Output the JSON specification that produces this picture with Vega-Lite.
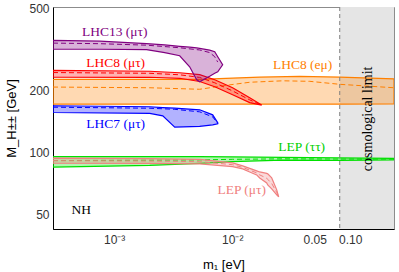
{
  "$schema": "https://vega.github.io/schema/vega-lite/v6.json",
  "width": 341,
  "height": 222,
  "autosize": {"type": "none"},
  "padding": {"left": 53, "top": 7, "right": 5, "bottom": 43},
  "config": {
    "view": {"stroke": "#8c8c8c", "strokeWidth": 1},
    "axis": {
      "grid": false,
      "ticks": false,
      "domainColor": "#000000",
      "domainWidth": 1,
      "labelFont": "Liberation Sans",
      "labelFontSize": 12,
      "labelColor": "#333333",
      "titleFont": "Liberation Sans",
      "titleFontSize": 13,
      "titleFontWeight": "normal",
      "titleColor": "#000000"
    }
  },
  "datasets": {
    "grey": [{"x": 0.0815, "x2": 0.235}],
    "limit": [{"x": 0.0815}],
    "orange": [
      {"x": 0.000303, "lo": 171.5, "hi": 226.7},
      {"x": 0.0020, "lo": 171.5, "hi": 226.7},
      {"x": 0.0053, "lo": 171.5, "hi": 226.7},
      {"x": 0.01008, "lo": 171.5, "hi": 229.9},
      {"x": 0.0171, "lo": 171.5, "hi": 232.5},
      {"x": 0.03733, "lo": 171.5, "hi": 234.1},
      {"x": 0.0815, "lo": 171.5, "hi": 232.5},
      {"x": 0.235, "lo": 172, "hi": 228.0}
    ],
    "orange_mid": [
      {"x": 0.000303, "y": 207.8},
      {"x": 0.0020, "y": 206.2},
      {"x": 0.0053, "y": 202.7},
      {"x": 0.00952, "y": 213},
      {"x": 0.01407, "y": 219.3},
      {"x": 0.02679, "y": 222.9},
      {"x": 0.0454, "y": 221.6},
      {"x": 0.0815, "y": 214.3},
      {"x": 0.235, "y": 206.2}
    ],
    "red": [
      {"x": 0.000303, "lo": 232.5, "hi": 250.5},
      {"x": 0.0020, "lo": 231.9, "hi": 248.1},
      {"x": 0.00359, "lo": 229.3, "hi": 244},
      {"x": 0.0053, "lo": 221.1, "hi": 239},
      {"x": 0.00711, "lo": 208.5, "hi": 225.5},
      {"x": 0.01008, "lo": 190.5, "hi": 206.2},
      {"x": 0.01407, "lo": 174.5, "hi": 184.1},
      {"x": 0.01778, "lo": 169.8, "hi": 169.8}
    ],
    "red_mid": [
      {"x": 0.000303, "y": 244.5},
      {"x": 0.0020, "y": 242.5},
      {"x": 0.00359, "y": 238.5},
      {"x": 0.0053, "y": 231.5},
      {"x": 0.00711, "y": 218},
      {"x": 0.01008, "y": 199},
      {"x": 0.01407, "y": 180},
      {"x": 0.01778, "y": 169.8}
    ],
    "purple": [
      {"x": 0.000303, "lo": 318.2, "hi": 350.6},
      {"x": 0.000754, "lo": 317.5, "hi": 347.7},
      {"x": 0.00188, "lo": 315.9, "hi": 338},
      {"x": 0.00268, "lo": 306, "hi": 333.2},
      {"x": 0.00359, "lo": 295.1, "hi": 328.1},
      {"x": 0.00436, "lo": 261, "hi": 324.9},
      {"x": 0.0050, "lo": 225.5, "hi": 322.2},
      {"x": 0.0053, "lo": 220.5, "hi": 320.6},
      {"x": 0.00644, "lo": 234.6, "hi": 314.2},
      {"x": 0.00711, "lo": 242.7, "hi": 309},
      {"x": 0.00754, "lo": 246.8, "hi": 292.0},
      {"x": 0.0083, "lo": 266.9, "hi": 266.9}
    ],
    "purple_mid": [
      {"x": 0.000303, "y": 340.2},
      {"x": 0.000754, "y": 338},
      {"x": 0.00188, "y": 332.4},
      {"x": 0.00359, "y": 322.9},
      {"x": 0.0053, "y": 315},
      {"x": 0.00644, "y": 306},
      {"x": 0.00711, "y": 292},
      {"x": 0.00754, "y": 275}
    ],
    "blue": [
      {"x": 0.000303, "lo": 156.2, "hi": 168.5},
      {"x": 0.0020, "lo": 154.8, "hi": 166.6},
      {"x": 0.00258, "lo": 150.5, "hi": 165.1},
      {"x": 0.00326, "lo": 132.6, "hi": 163.9},
      {"x": 0.0053, "lo": 133.8, "hi": 161},
      {"x": 0.00683, "lo": 136.1, "hi": 152.2},
      {"x": 0.00754, "lo": 137.6, "hi": 139.2}
    ],
    "blue_mid": [
      {"x": 0.000303, "y": 165.8},
      {"x": 0.0020, "y": 163.9},
      {"x": 0.00326, "y": 161.9},
      {"x": 0.0053, "y": 157.4},
      {"x": 0.00683, "y": 148.8},
      {"x": 0.00754, "y": 138.3}
    ],
    "green": [
      {"x": 0.000303, "lo": 84.6, "hi": 95.3},
      {"x": 0.0020, "lo": 86.3, "hi": 95.3},
      {"x": 0.0053, "lo": 88.3, "hi": 95.2},
      {"x": 0.01008, "lo": 90.1, "hi": 95.0},
      {"x": 0.02679, "lo": 91.5, "hi": 94.4},
      {"x": 0.0815, "lo": 91.3, "hi": 93.9},
      {"x": 0.235, "lo": 91.8, "hi": 93.4}
    ],
    "green_mid": [
      {"x": 0.000303, "y": 91.1},
      {"x": 0.0020, "y": 91.5},
      {"x": 0.0053, "y": 91.8},
      {"x": 0.01008, "y": 92.4},
      {"x": 0.02679, "y": 92.9},
      {"x": 0.0815, "y": 92.7},
      {"x": 0.235, "y": 92.6}
    ],
    "pink": [
      {"x": 0.000303, "lo": 88.5, "hi": 93.6},
      {"x": 0.0020, "lo": 88.3, "hi": 93.1},
      {"x": 0.0053, "lo": 87.8, "hi": 92.4},
      {"x": 0.01008, "lo": 85.2, "hi": 88.8},
      {"x": 0.01227, "lo": 83.0, "hi": 85.9},
      {"x": 0.01407, "lo": 80.2, "hi": 83.5},
      {"x": 0.01613, "lo": 77.6, "hi": 81.2},
      {"x": 0.0171, "lo": 75.0, "hi": 80.2},
      {"x": 0.01961, "lo": 70.9, "hi": 78.9},
      {"x": 0.0200, "lo": 69.3, "hi": 78.5},
      {"x": 0.02162, "lo": 66.3, "hi": 75.0},
      {"x": 0.02384, "lo": 62, "hi": 65.6},
      {"x": 0.02477, "lo": 60.6, "hi": 60.6}
    ],
    "pink_mid": [
      {"x": 0.000303, "y": 91.0},
      {"x": 0.0020, "y": 90.6},
      {"x": 0.0053, "y": 90.0},
      {"x": 0.01008, "y": 87.0},
      {"x": 0.01227, "y": 84.4},
      {"x": 0.01407, "y": 81.8},
      {"x": 0.01613, "y": 79.4},
      {"x": 0.0171, "y": 77.6},
      {"x": 0.01961, "y": 74.8},
      {"x": 0.0200, "y": 73.8},
      {"x": 0.02162, "y": 70.5},
      {"x": 0.02384, "y": 63.7},
      {"x": 0.02477, "y": 60.6}
    ],
    "labels": [
      {"x": 0.00101, "y": 386.7, "label": "LHC13 (μτ)"},
      {"x": 0.00103, "y": 272.9, "label": "LHC8 (μτ)"},
      {"x": 0.00103, "y": 137.6, "label": "LHC7 (μτ)"},
      {"x": 0.0395, "y": 267, "label": "LHC8 (eμ)"},
      {"x": 0.0388, "y": 106.3, "label": "LEP (ττ)"},
      {"x": 0.01204, "y": 65.6, "label": "LEP (μτ)"},
      {"x": 0.000525, "y": 52.4, "label": "NH"}
    ],
    "cosmo": [{"x": 0.1406, "y": 145.5, "label": "cosmological limit"}]
  },
  "encoding": {
    "x": {
      "field": "x",
      "type": "quantitative",
      "title": "m₁ [eV]",
      "scale": {"type": "log", "domain": [0.000303, 0.235], "nice": false},
      "axis": {
        "values": [0.001, 0.01, 0.05, 0.1],
        "labelExpr": "datum.value < 0.002 ? '10⁻³' : datum.value < 0.02 ? '10⁻²' : datum.value < 0.07 ? '0.05' : '0.10'",
        "labelPadding": 5,
        "titlePadding": 13
      }
    }
  },
  "layer": [
    {
      "data": {"name": "grey"},
      "mark": {"type": "rect", "fill": "#e5e5e5", "stroke": null},
      "encoding": {"x2": {"field": "x2"}}
    },
    {
      "data": {"name": "orange"},
      "mark": {"type": "area", "fill": "#ff8000", "fillOpacity": 0.3, "stroke": "#ff8000", "strokeWidth": 1.2, "clip": true},
      "encoding": {
        "y": {"field": "lo", "type": "quantitative", "title": "M_H±± [GeV]", "scale": {"type": "log", "domain": [42.3, 510], "nice": false}, "axis": {"values": [50, 100, 200, 500], "labelPadding": 4, "titlePadding": 10}},
        "y2": {"field": "hi"}
      }
    },
    {
      "data": {"name": "orange_mid"},
      "mark": {"type": "line", "stroke": "#ff8000", "strokeWidth": 1, "strokeDash": [5, 3], "clip": true},
      "encoding": {"y": {"field": "y", "type": "quantitative", "title": "M_H±± [GeV]", "scale": {"type": "log", "domain": [42.3, 510], "nice": false}, "axis": {"values": [50, 100, 200, 500], "labelPadding": 4, "titlePadding": 10}}}
    },
    {
      "data": {"name": "red"},
      "mark": {"type": "area", "fill": "#ff0000", "fillOpacity": 0.3, "stroke": "#ff0000", "strokeWidth": 1.2, "clip": true},
      "encoding": {
        "y": {"field": "lo", "type": "quantitative", "title": "M_H±± [GeV]", "scale": {"type": "log", "domain": [42.3, 510], "nice": false}, "axis": {"values": [50, 100, 200, 500], "labelPadding": 4, "titlePadding": 10}},
        "y2": {"field": "hi"}
      }
    },
    {
      "data": {"name": "red_mid"},
      "mark": {"type": "line", "stroke": "#ff0000", "strokeWidth": 1, "strokeDash": [5, 3], "clip": true},
      "encoding": {"y": {"field": "y", "type": "quantitative", "title": "M_H±± [GeV]", "scale": {"type": "log", "domain": [42.3, 510], "nice": false}, "axis": {"values": [50, 100, 200, 500], "labelPadding": 4, "titlePadding": 10}}}
    },
    {
      "data": {"name": "purple"},
      "mark": {"type": "area", "fill": "#800080", "fillOpacity": 0.3, "stroke": "#800080", "strokeWidth": 1.2, "clip": true},
      "encoding": {
        "y": {"field": "lo", "type": "quantitative", "title": "M_H±± [GeV]", "scale": {"type": "log", "domain": [42.3, 510], "nice": false}, "axis": {"values": [50, 100, 200, 500], "labelPadding": 4, "titlePadding": 10}},
        "y2": {"field": "hi"}
      }
    },
    {
      "data": {"name": "purple_mid"},
      "mark": {"type": "line", "stroke": "#800080", "strokeWidth": 1, "strokeDash": [5, 3], "clip": true},
      "encoding": {"y": {"field": "y", "type": "quantitative", "title": "M_H±± [GeV]", "scale": {"type": "log", "domain": [42.3, 510], "nice": false}, "axis": {"values": [50, 100, 200, 500], "labelPadding": 4, "titlePadding": 10}}}
    },
    {
      "data": {"name": "blue"},
      "mark": {"type": "area", "fill": "#0000ff", "fillOpacity": 0.3, "stroke": "#0000ff", "strokeWidth": 1.2, "clip": true},
      "encoding": {
        "y": {"field": "lo", "type": "quantitative", "title": "M_H±± [GeV]", "scale": {"type": "log", "domain": [42.3, 510], "nice": false}, "axis": {"values": [50, 100, 200, 500], "labelPadding": 4, "titlePadding": 10}},
        "y2": {"field": "hi"}
      }
    },
    {
      "data": {"name": "blue_mid"},
      "mark": {"type": "line", "stroke": "#0000ff", "strokeWidth": 1, "strokeDash": [5, 3], "clip": true},
      "encoding": {"y": {"field": "y", "type": "quantitative", "title": "M_H±± [GeV]", "scale": {"type": "log", "domain": [42.3, 510], "nice": false}, "axis": {"values": [50, 100, 200, 500], "labelPadding": 4, "titlePadding": 10}}}
    },
    {
      "data": {"name": "green"},
      "mark": {"type": "area", "fill": "#00e000", "fillOpacity": 0.3, "stroke": "#00e000", "strokeWidth": 1.2, "clip": true},
      "encoding": {
        "y": {"field": "lo", "type": "quantitative", "title": "M_H±± [GeV]", "scale": {"type": "log", "domain": [42.3, 510], "nice": false}, "axis": {"values": [50, 100, 200, 500], "labelPadding": 4, "titlePadding": 10}},
        "y2": {"field": "hi"}
      }
    },
    {
      "data": {"name": "green_mid"},
      "mark": {"type": "line", "stroke": "#00e000", "strokeWidth": 1, "strokeDash": [5, 3], "clip": true},
      "encoding": {"y": {"field": "y", "type": "quantitative", "title": "M_H±± [GeV]", "scale": {"type": "log", "domain": [42.3, 510], "nice": false}, "axis": {"values": [50, 100, 200, 500], "labelPadding": 4, "titlePadding": 10}}}
    },
    {
      "data": {"name": "pink"},
      "mark": {"type": "area", "fill": "#f08080", "fillOpacity": 0.3, "stroke": "#f08080", "strokeWidth": 1.2, "clip": true},
      "encoding": {
        "y": {"field": "lo", "type": "quantitative", "title": "M_H±± [GeV]", "scale": {"type": "log", "domain": [42.3, 510], "nice": false}, "axis": {"values": [50, 100, 200, 500], "labelPadding": 4, "titlePadding": 10}},
        "y2": {"field": "hi"}
      }
    },
    {
      "data": {"name": "pink_mid"},
      "mark": {"type": "line", "stroke": "#f08080", "strokeWidth": 1, "strokeDash": [5, 3], "clip": true},
      "encoding": {"y": {"field": "y", "type": "quantitative", "title": "M_H±± [GeV]", "scale": {"type": "log", "domain": [42.3, 510], "nice": false}, "axis": {"values": [50, 100, 200, 500], "labelPadding": 4, "titlePadding": 10}}}
    },
    {
      "data": {"name": "limit"},
      "mark": {"type": "rule", "stroke": "#808080", "strokeWidth": 1, "strokeDash": [4, 3]},
      "encoding": {}
    },
    {
      "data": {"name": "labels"},
      "mark": {"type": "text", "font": "Liberation Serif", "fontSize": 13.5, "align": "center", "baseline": "middle"},
      "encoding": {
        "y": {"field": "y", "type": "quantitative", "title": "M_H±± [GeV]", "scale": {"type": "log", "domain": [42.3, 510], "nice": false}, "axis": {"values": [50, 100, 200, 500], "labelPadding": 4, "titlePadding": 10}},
        "text": {"field": "label"},
        "color": {
          "field": "label",
          "type": "nominal",
          "scale": {
            "domain": ["LHC13 (μτ)", "LHC8 (μτ)", "LHC7 (μτ)", "LHC8 (eμ)", "LEP (ττ)", "LEP (μτ)", "NH"],
            "range": ["#800080", "#ff0000", "#0000ff", "#ff8000", "#00d000", "#f08080", "#000000"]
          },
          "legend": null
        }
      }
    },
    {
      "data": {"name": "cosmo"},
      "mark": {"type": "text", "font": "Liberation Serif", "fontSize": 14, "align": "center", "baseline": "middle", "angle": 270, "color": "#000000"},
      "encoding": {
        "y": {"field": "y", "type": "quantitative", "title": "M_H±± [GeV]", "scale": {"type": "log", "domain": [42.3, 510], "nice": false}, "axis": {"values": [50, 100, 200, 500], "labelPadding": 4, "titlePadding": 10}},
        "text": {"field": "label"}
      }
    }
  ]
}
